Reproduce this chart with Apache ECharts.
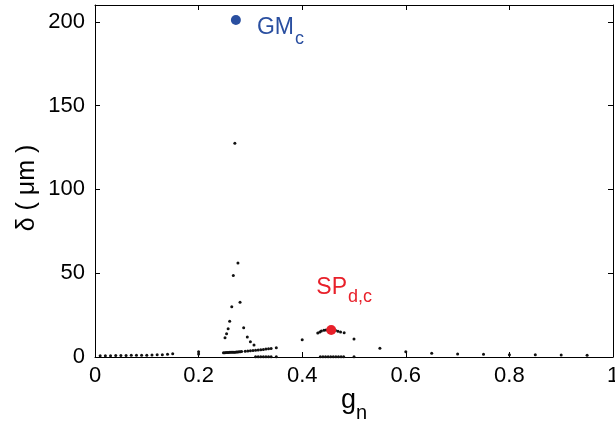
<!DOCTYPE html>
<html>
<head>
<meta charset="utf-8">
<script src="https://cdn.jsdelivr.net/npm/echarts@6/dist/echarts.min.js"></script>
<style>html,body{margin:0;padding:0;background:#fff;}#c{width:615px;height:425px;}</style>
</head>
<body>
<div id="c"></div>
<script>
// ---- data ----
// low branch for small g_n
const lowX = [0.01,0.02,0.03,0.04,0.05,0.06,0.07,0.08,0.09,0.10,0.11,0.12,0.13,0.14,0.15,0.20,0.20];
const lowY = [0.8,0.8,0.8,0.9,0.9,0.9,1.0,1.0,1.1,1.1,1.2,1.3,1.4,1.6,1.9,3.2,1.8];
// sharp peak near GM_c
const peakX = [0.251,0.254,0.257,0.260,0.264,0.267,0.270,0.276,0.280,0.287,0.294,0.300,0.307];
const peakY = [11.5,13.9,16.9,21.4,30.0,48.6,127.5,56.1,32.7,17.5,11.9,9.1,7.1];
// lower branch under the peak
const lowerX = [0.248,0.2505,0.253,0.2555,0.258,0.2605,0.263,0.2655,0.268,0.2705,0.273,0.2755,0.278,0.2805,0.283,
                0.290,0.295,0.300,0.305,0.310,0.315,0.320,0.325,0.330,0.335,0.340,0.350];
const lowerY = [2.6,2.6,2.7,2.7,2.7,2.8,2.8,2.8,2.9,2.9,3.0,3.0,3.1,3.2,3.3,
                3.5,3.6,3.8,3.9,4.0,4.2,4.3,4.5,4.7,4.9,5.1,5.5];
// points lying on the axis
const zeroX = [0.31,0.315,0.32,0.325,0.33,0.335,0.34,0.35,0.435,0.44,0.445,0.45,0.455,0.46,0.465,0.47,0.475,0.48,0.50];
const zeroY = [0.2,0.2,0.2,0.2,0.2,0.2,0.2,0.2,0.2,0.2,0.2,0.2,0.2,0.2,0.2,0.2,0.2,0.2,0.2];
// second hump near SP_d,c and tail
const humpX = [0.40,0.430,0.434,0.437,0.442,0.446,0.451,0.464,0.469,0.474,0.481,0.50,0.55,0.60,0.65,0.70,0.75,0.80,0.85,0.90,0.95];
const humpY = [10.3,14.3,14.9,15.5,15.9,16.1,16.2,15.9,15.4,14.9,14.4,10.7,5.2,3.2,2.2,1.8,1.6,1.4,1.3,1.2,1.1];
// critical points
const gmPoint = [0.272, 201];
const spPoint = [0.456, 16.1];
// axis ticks
const xTicks = [0, 0.2, 0.4, 0.6, 0.8, 1];
const yTicks = [0, 50, 100, 150, 200];

const zip = (xs, ys) => xs.map((x, i) => [x, ys[i]]);
const blackPts = [].concat(zip(lowX, lowY), zip(peakX, peakY), zip(lowerX, lowerY), zip(zeroX, zeroY), zip(humpX, humpY));

const FONT = "'Liberation Sans', Arial, sans-serif";
const chart = echarts.init(document.getElementById('c'), null, {renderer: 'canvas'});
const axisCommon = {
  axisLine: {show: true, onZero: false, lineStyle: {color: '#000', width: 1}},
  splitLine: {show: false}
};
chart.setOption({
  animation: false,
  backgroundColor: '#fff',
  grid: {left: 95, right: 2, top: 5, bottom: 68, containLabel: false, outerBoundsMode: 'none'},
  xAxis: [
    Object.assign({
      type: 'value', min: xTicks[0], max: xTicks[xTicks.length - 1], interval: 0.2, position: 'bottom',
      axisTick: {show: true, inside: true, length: 5, lineStyle: {color: '#000'}},
      axisLabel: {show: true, color: '#000', fontSize: 22, fontFamily: FONT, margin: 8, hideOverlap: false,
        showMinLabel: true, showMaxLabel: true,
        formatter: v => (Math.abs(v) < 1e-9 ? '0' : (Math.abs(v - 1) < 1e-9 ? '1' : v.toFixed(1)))},
      name: '{g|g}{n|n}', nameLocation: 'middle', nameGap: 30, nameMoveOverlap: false,
      nameTextStyle: {rich: {
        g: {fontSize: 27, fontFamily: FONT, color: '#000', lineHeight: 28, verticalAlign: 'top'},
        n: {fontSize: 20, fontFamily: FONT, color: '#000', lineHeight: 20, padding: [16, 0, 0, 0], verticalAlign: 'top'}
      }}
    }, axisCommon),
    Object.assign({
      type: 'value', min: 0, max: 1, interval: 0.2, position: 'top',
      axisTick: {show: true, inside: true, length: 5, lineStyle: {color: '#000'}},
      axisLabel: {show: false}
    }, axisCommon)
  ],
  yAxis: [
    Object.assign({
      type: 'value', min: 0, max: 210, interval: 50, position: 'left',
      axisTick: {show: true, inside: true, length: 5, lineStyle: {color: '#000'}},
      axisLabel: {show: true, color: '#000', fontSize: 22, fontFamily: FONT, margin: 10, showMaxLabel: false, hideOverlap: false,
        formatter: v => (yTicks.indexOf(v) >= 0 ? String(v) : '')},
      name: 'δ ( μm )', nameLocation: 'middle', nameGap: 55, nameRotate: 90, nameMoveOverlap: false,
      nameTextStyle: {fontSize: 25, fontFamily: FONT, color: '#000', padding: [0, 14, 0, 0]}
    }, axisCommon),
    Object.assign({
      type: 'value', min: 0, max: 210, interval: 50, position: 'right',
      axisTick: {show: true, inside: true, length: 5, lineStyle: {color: '#000'}},
      axisLabel: {show: false}
    }, axisCommon)
  ],
  series: [
    {
      type: 'scatter', data: blackPts, symbol: 'circle', symbolSize: 3,
      itemStyle: {color: '#111', opacity: 1}, silent: true, clip: false
    },
    {
      type: 'scatter', data: [gmPoint], symbol: 'circle', symbolSize: 10,
      itemStyle: {color: '#2a4fa0', opacity: 1}, clip: false,
      label: {show: true, position: 'right', distance: 5, offset: [11, 8],
        formatter: '{a|GM}{b|c}',
        rich: {
          a: {fontSize: 23, fontFamily: FONT, color: '#2a4fa0', lineHeight: 24, verticalAlign: 'top'},
          b: {fontSize: 18, fontFamily: FONT, color: '#2a4fa0', lineHeight: 18, padding: [14, 0, 0, 1], verticalAlign: 'top'}
        }}
    },
    {
      type: 'scatter', data: [spPoint], symbol: 'circle', symbolSize: 10,
      itemStyle: {color: '#e8202a', opacity: 1}, clip: false,
      label: {show: true, position: 'top', distance: 5, offset: [13, -20],
        formatter: '{a|SP}{b|d,c}',
        rich: {
          a: {fontSize: 23, fontFamily: FONT, color: '#e8202a', lineHeight: 24, verticalAlign: 'top'},
          b: {fontSize: 18, fontFamily: FONT, color: '#e8202a', lineHeight: 18, padding: [12, 0, 0, 1], verticalAlign: 'top'}
        }}
    }
  ]
});
</script>
</body>
</html>
